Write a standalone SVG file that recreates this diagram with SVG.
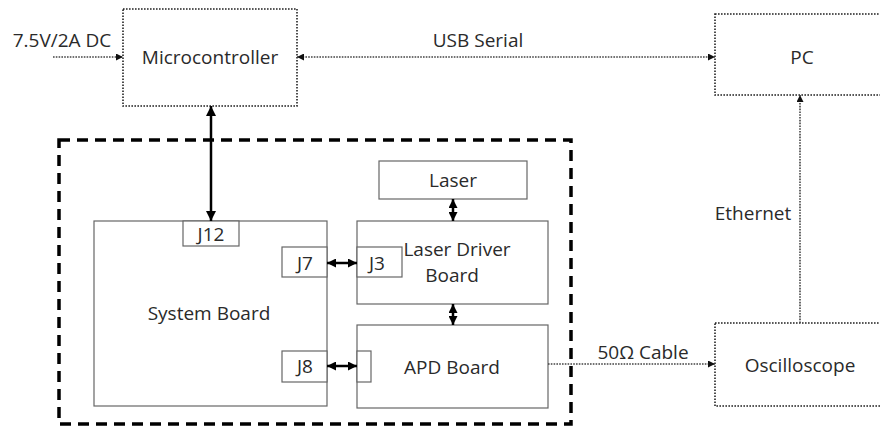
<svg xmlns="http://www.w3.org/2000/svg" width="880" height="427" viewBox="0 0 880 427">
<defs>
<style>
text{font-family:"Open Sans","Liberation Sans",sans-serif;font-size:19px;fill:#2a2a2a;text-anchor:middle;dominant-baseline:central}
.dot{fill:#fff;stroke:#222;stroke-width:1.6;stroke-dasharray:1.6 1.4}
.solid{fill:#fff;stroke:#666;stroke-width:1.2}
.conn{fill:none;stroke:#444;stroke-width:1.6;stroke-dasharray:1.6 1.2}
.thick{fill:none;stroke:#000;stroke-width:2.5}
.dash{fill:none;stroke:#000;stroke-width:3.5;stroke-dasharray:11 7}
</style>
<marker id="ah" viewBox="0 0 10 10" refX="10" refY="5" markerWidth="7" markerHeight="7" markerUnits="userSpaceOnUse" orient="auto-start-reverse"><path d="M0,0 L10,5 L0,10 z" fill="#111"/></marker>
<marker id="sh" viewBox="0 0 10 10" refX="10" refY="5" markerWidth="9" markerHeight="9" markerUnits="userSpaceOnUse" orient="auto-start-reverse"><path d="M0,0 L10,5 L0,10 z" fill="#000"/></marker>
<marker id="bh" viewBox="0 0 10 10" refX="10" refY="5" markerWidth="10" markerHeight="10" markerUnits="userSpaceOnUse" orient="auto-start-reverse"><path d="M0,0 L10,5 L0,10 z" fill="#000"/></marker>
</defs>
<rect class="dash" x="59" y="140" width="512" height="284"/>
<g id="microcontroller"><rect class="dot" x="123" y="9" width="174" height="97"/><text x="210" y="57">Microcontroller</text></g>
<g id="pc"><rect class="dot" x="715" y="14" width="170" height="81"/><text x="802" y="57">PC</text></g>
<g id="oscilloscope"><rect class="dot" x="715" y="323" width="170" height="83"/><text x="800" y="365">Oscilloscope</text></g>
<g id="system-board"><rect class="solid" x="94" y="221" width="233" height="185"/><text x="209" y="313">System Board</text></g>
<g id="j12"><rect class="solid" x="183" y="221" width="56" height="25"/><text x="211" y="234">J12</text></g>
<g id="j7"><rect class="solid" x="282" y="247" width="45" height="30"/><text x="305" y="263">J7</text></g>
<g id="j8"><rect class="solid" x="282" y="351" width="45" height="31"/><text x="305" y="366">J8</text></g>
<g id="laser"><rect class="solid" x="379" y="161" width="148" height="38"/><text x="453" y="180">Laser</text></g>
<g id="laser-driver-board"><rect class="solid" x="357" y="221" width="191" height="83"/><text x="457" y="249">Laser Driver</text><text x="452" y="275">Board</text></g>
<g id="j3"><rect class="solid" x="357" y="247" width="45" height="30"/><text x="377" y="263">J3</text></g>
<g id="apd-board"><rect class="solid" x="357" y="325" width="191" height="83"/><text x="452" y="367">APD Board</text></g>
<g id="apd-connector"><rect class="solid" x="357" y="351" width="14" height="31"/></g>
<g id="connectors">
<line class="conn" x1="53" y1="57" x2="123" y2="57" marker-end="url(#ah)"/>
<text x="62" y="40">7.5V/2A DC</text>
<line class="conn" x1="297" y1="57" x2="715" y2="57" marker-start="url(#ah)" marker-end="url(#ah)"/>
<text x="478" y="40">USB Serial</text>
<line class="conn" x1="800" y1="323" x2="800" y2="95" marker-end="url(#ah)"/>
<text x="753" y="213">Ethernet</text>
<line class="conn" x1="548" y1="364" x2="715" y2="364" marker-end="url(#ah)"/>
<text x="643" y="352">50Ω Cable</text>
<line class="thick" x1="211" y1="106" x2="211" y2="221" marker-start="url(#bh)" marker-end="url(#bh)"/>
<line class="thick" x1="327" y1="263" x2="357" y2="263" marker-start="url(#sh)" marker-end="url(#sh)"/>
<line class="thick" x1="327" y1="366" x2="357" y2="366" marker-start="url(#sh)" marker-end="url(#sh)"/>
<line class="thick" x1="453" y1="199" x2="453" y2="221" marker-start="url(#sh)" marker-end="url(#sh)"/>
<line class="thick" x1="453" y1="304" x2="453" y2="325" marker-start="url(#sh)" marker-end="url(#sh)"/>
</g>
</svg>
